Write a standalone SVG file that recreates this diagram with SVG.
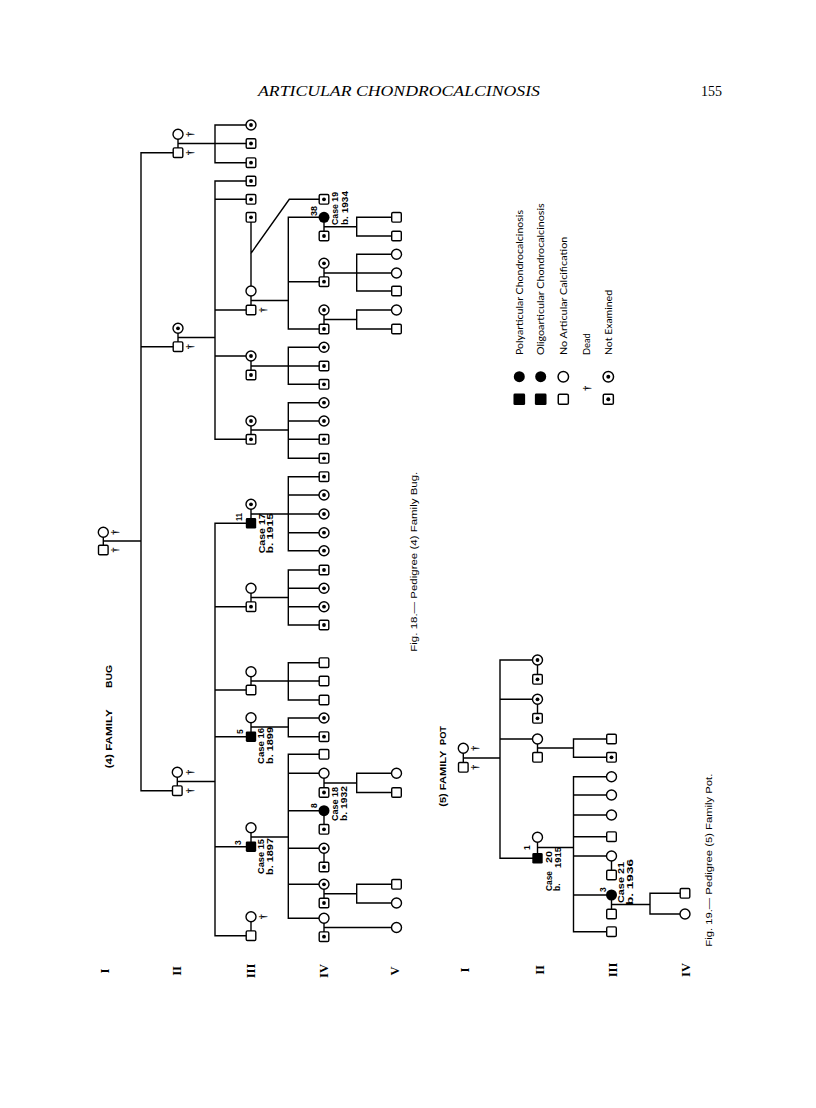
<svg xmlns="http://www.w3.org/2000/svg" width="816" height="1108" viewBox="0 0 816 1108">
<style>
.l{stroke:#000;stroke-width:1.4;fill:none;stroke-linecap:square}
.t{font-family:"Liberation Sans",Arial,sans-serif;font-size:9.5px;fill:#000}
.cs{font-family:"Liberation Sans",Arial,sans-serif;font-size:8.5px;font-weight:bold;fill:#000}
.b{font-weight:bold}
.g{font-family:"Liberation Serif","Times New Roman",serif;font-size:12.5px;font-weight:bold;fill:#000}
.dg{font-family:"Liberation Serif","Times New Roman",serif;font-size:10px;font-weight:bold;fill:#000}
.lg{font-family:Lato,"Liberation Sans",sans-serif;font-size:9px;fill:#000}
</style>
<defs>
<g id="S"><rect x="-4.8" y="-4.8" width="9.6" height="9.6" rx="1.3" fill="#fff" stroke="#000" stroke-width="1.4"/></g>
<g id="SN"><use href="#S"/><circle r="1.9" fill="#000"/></g>
<g id="SF"><rect x="-5.2" y="-5.2" width="10.4" height="10.4" rx="1.3" fill="#000"/></g>
<g id="C"><circle r="5" fill="#fff" stroke="#000" stroke-width="1.4"/></g>
<g id="CN"><use href="#C"/><circle r="1.9" fill="#000"/></g>
<g id="CF"><circle r="5.5" fill="#000"/></g>
</defs>
<rect width="816" height="1108" fill="#fff"/>

<!-- header -->
<text x="258" y="96" font-family="Liberation Serif,serif" font-style="italic" font-size="14" textLength="282" lengthAdjust="spacingAndGlyphs">ARTICULAR CHONDROCALCINOSIS</text>
<text x="701" y="96" font-family="Liberation Serif,serif" font-size="14">155</text>

<g id="connectors" class="l">
<!-- Pedigree 4 -->
<path d="M103.3,532.3V550M103.3,541H141M141,152.7V790.7M141,152.7H178M141,346.7H178M141,790.7H177.3"/>
<path d="M178,134.3V152.7M178,143.5H215M215,125V162.7M215,125H251M215,143.5H251M215,162.7H251"/>
<path d="M178,328.3V346.7M178,337.5H215M215,181V439.3M215,181H251M215,199.3H251M215,310H251M215,356H251M215,439.3H251"/>
<path d="M251,217.3V310M251,253.3L289.3,199.3H324M251,300.5H288.3M288.3,217.3V329M288.3,217.3H324M288.3,281.7H324M288.3,329H324"/>
<path d="M324,217.3V236M324,226.7H356.7M356.7,217.3V236M356.7,217.3H396.5M356.7,236H396.5"/>
<path d="M324,263.3V281.7M324,273H396.5M356.7,254.3V291M356.7,254.3H396.5M356.7,291H396.5"/>
<path d="M324,310V329M324,319.5H356.7M356.7,310V329M356.7,310H396.5M356.7,329H396.5"/>
<path d="M251,356V375M251,366H324M288.3,347.3V384.3M288.3,347.3H324M288.3,384.3H324"/>
<path d="M251,421V439.3M251,430H288.3M288.3,402.7V458.3M288.3,402.7H324M288.3,421H324M288.3,439.3H324M288.3,458.3H324"/>
<path d="M177.3,772.3V790.7M177.3,781.5H215M215,523.3V935.7M215,523.3H251M215,606.7H251M215,690H251M215,736.7H251M215,846.7H251M215,935.7H251"/>
<path d="M251,504.3V523.3M251,514H324M288.3,476.7V550.7M288.3,476.7H324M288.3,495H324M288.3,532.7H324M288.3,550.7H324"/>
<path d="M251,588.3V606.7M251,597.5H288.3M288.3,570V625M288.3,570H324M288.3,588.3H324M288.3,606.7H324M288.3,625H324"/>
<path d="M251,671.7V690M251,681H324M288.3,662.7V700M288.3,662.7H324M288.3,700H324"/>
<path d="M251,717.7V736.7M251,727H288.3M288.3,718V736.7M288.3,718H324M288.3,736.7H324"/>
<path d="M251,827.7V846.7M251,837H288.3M288.3,754.3V918.3M288.3,754.3H324M288.3,773.3H324M288.3,810.7H324M288.3,848.3H324M288.3,884.3H324M288.3,918.3H324"/>
<path d="M324,773.3V792.5M324,783H356.7M356.7,773.3V792.5M356.7,773.3H396.5M356.7,792.5H396.5"/>
<path d="M324,810.7V829.3M324,848.3V867M324,884.3V903M324,893.7H356.7M356.7,884.3V903M356.7,884.3H396.5M356.7,903H396.5M324,918.3V936.7M324,927.5H396.5"/>
<path d="M251,916.7V935.7"/>
<!-- Pedigree 5 -->
<path d="M463.3,748.3V767.3M463.3,758H500M500,660V858.3M500,660H537.5M500,699.3H537.5M500,739H537.5M500,858.3H537.5"/>
<path d="M537.5,660V679.3M537.5,699.3V718.3M537.5,739V757.3M537.5,748H573.5M573.5,739V757.3M573.5,739H611.5M573.5,757.3H611.5"/>
<path d="M537.5,837.3V858.3M537.5,847.5H573.5M573.5,776.7V931.7M573.5,776.7H611.5M573.5,795H611.5M573.5,815H611.5M573.5,836.7H611.5M573.5,856H611.5M573.5,895H611.5M573.5,931.7H611.5"/>
<path d="M611.5,856V875M611.5,895V914M611.5,904.5H650M650,893.3V914M650,893.3H685M650,914H685"/>
</g>

<!-- Pedigree 4 nodes -->
<g id="p4-I-1"><use href="#C" x="103.3" y="532.3"/></g>
<g id="p4-I-2"><use href="#S" x="103.3" y="550"/></g>
<g id="p4-IIa-1"><use href="#C" x="178" y="134.3"/></g>
<g id="p4-IIa-2"><use href="#S" x="178" y="152.7"/></g>
<g id="p4-IIIa-1"><use href="#CN" x="251" y="125"/></g>
<g id="p4-IIIa-2"><use href="#SN" x="251" y="143.5"/></g>
<g id="p4-IIIa-3"><use href="#SN" x="251" y="162.7"/></g>
<g id="p4-IIb-1"><use href="#CN" x="178" y="328.3"/></g>
<g id="p4-IIb-2"><use href="#S" x="178" y="346.7"/></g>
<g id="p4-IIIb-1"><use href="#SN" x="251" y="181"/></g>
<g id="p4-IIIb-2"><use href="#SN" x="251" y="199.3"/></g>
<g id="p4-IIIb-3"><use href="#SN" x="251" y="217.3"/></g>
<g id="p4-IIIb-4"><use href="#C" x="251" y="291"/></g>
<g id="p4-IIIb-5"><use href="#S" x="251" y="310"/></g>
<g id="p4-IIIb-6"><use href="#CN" x="251" y="356"/></g>
<g id="p4-IIIb-7"><use href="#SN" x="251" y="375"/></g>
<g id="p4-IIIb-8"><use href="#CN" x="251" y="421"/></g>
<g id="p4-IIIb-9"><use href="#SN" x="251" y="439.3"/></g>
<g id="p4-IVa-1"><use href="#SN" x="324" y="199.3"/></g>
<g id="p4-IVa-2"><use href="#CF" x="324" y="217.3"/></g>
<g id="p4-IVa-3"><use href="#SN" x="324" y="236"/></g>
<g id="p4-IVa-4"><use href="#CN" x="324" y="263.3"/></g>
<g id="p4-IVa-5"><use href="#SN" x="324" y="281.7"/></g>
<g id="p4-IVa-6"><use href="#CN" x="324" y="310"/></g>
<g id="p4-IVa-7"><use href="#SN" x="324" y="329"/></g>
<g id="p4-Va-1"><use href="#S" x="396.5" y="217.3"/></g>
<g id="p4-Va-2"><use href="#S" x="396.5" y="236"/></g>
<g id="p4-Va-3"><use href="#C" x="396.5" y="254.3"/></g>
<g id="p4-Va-4"><use href="#C" x="396.5" y="273"/></g>
<g id="p4-Va-5"><use href="#S" x="396.5" y="291"/></g>
<g id="p4-Va-6"><use href="#C" x="396.5" y="310"/></g>
<g id="p4-Va-7"><use href="#S" x="396.5" y="329"/></g>
<g id="p4-IVb-1"><use href="#CN" x="324" y="347.3"/></g>
<g id="p4-IVb-2"><use href="#SN" x="324" y="366"/></g>
<g id="p4-IVb-3"><use href="#SN" x="324" y="384.3"/></g>
<g id="p4-IVc-1"><use href="#CN" x="324" y="402.7"/></g>
<g id="p4-IVc-2"><use href="#CN" x="324" y="421"/></g>
<g id="p4-IVc-3"><use href="#SN" x="324" y="439.3"/></g>
<g id="p4-IVc-4"><use href="#SN" x="324" y="458.3"/></g>
<g id="p4-IIc-1"><use href="#C" x="177.3" y="772.3"/></g>
<g id="p4-IIc-2"><use href="#S" x="177.3" y="790.7"/></g>
<g id="p4-IIIc-1"><use href="#CN" x="251" y="504.3"/></g>
<g id="p4-IIIc-2"><use href="#SF" x="251" y="523.3"/></g>
<g id="p4-IIIc-3"><use href="#C" x="251" y="588.3"/></g>
<g id="p4-IIIc-4"><use href="#SN" x="251" y="606.7"/></g>
<g id="p4-IIIc-5"><use href="#C" x="251" y="671.7"/></g>
<g id="p4-IIIc-6"><use href="#S" x="251" y="690"/></g>
<g id="p4-IIIc-7"><use href="#C" x="251" y="717.7"/></g>
<g id="p4-IIIc-8"><use href="#SF" x="251" y="736.7"/></g>
<g id="p4-IIIc-9"><use href="#C" x="251" y="827.7"/></g>
<g id="p4-IIIc-10"><use href="#SF" x="251" y="846.7"/></g>
<g id="p4-IIIc-11"><use href="#C" x="251" y="916.7"/></g>
<g id="p4-IIIc-12"><use href="#S" x="251" y="935.7"/></g>
<g id="p4-IVd-1"><use href="#SN" x="324" y="476.7"/></g>
<g id="p4-IVd-2"><use href="#CN" x="324" y="495"/></g>
<g id="p4-IVd-3"><use href="#CN" x="324" y="514"/></g>
<g id="p4-IVd-4"><use href="#CN" x="324" y="532.7"/></g>
<g id="p4-IVd-5"><use href="#CN" x="324" y="550.7"/></g>
<g id="p4-IVe-1"><use href="#SN" x="324" y="570"/></g>
<g id="p4-IVe-2"><use href="#CN" x="324" y="588.3"/></g>
<g id="p4-IVe-3"><use href="#CN" x="324" y="606.7"/></g>
<g id="p4-IVe-4"><use href="#SN" x="324" y="625"/></g>
<g id="p4-IVf-1"><use href="#S" x="324" y="662.7"/></g>
<g id="p4-IVf-2"><use href="#S" x="324" y="681"/></g>
<g id="p4-IVf-3"><use href="#S" x="324" y="700"/></g>
<g id="p4-IVg-1"><use href="#CN" x="324" y="718"/></g>
<g id="p4-IVg-2"><use href="#SN" x="324" y="736.7"/></g>
<g id="p4-IVh-1"><use href="#S" x="324" y="754.3"/></g>
<g id="p4-IVh-2"><use href="#C" x="324" y="773.3"/></g>
<g id="p4-IVh-3"><use href="#SN" x="324" y="792.5"/></g>
<g id="p4-IVh-4"><use href="#CF" x="324" y="810.7"/></g>
<g id="p4-IVh-5"><use href="#SN" x="324" y="829.3"/></g>
<g id="p4-IVh-6"><use href="#CN" x="324" y="848.3"/></g>
<g id="p4-IVh-7"><use href="#SN" x="324" y="867"/></g>
<g id="p4-IVh-8"><use href="#CN" x="324" y="884.3"/></g>
<g id="p4-IVh-9"><use href="#SN" x="324" y="903"/></g>
<g id="p4-IVh-10"><use href="#C" x="324" y="918.3"/></g>
<g id="p4-IVh-11"><use href="#SN" x="324" y="936.7"/></g>
<g id="p4-Vb-1"><use href="#C" x="396.5" y="773.3"/></g>
<g id="p4-Vb-2"><use href="#S" x="396.5" y="792.5"/></g>
<g id="p4-Vb-3"><use href="#S" x="396.5" y="884.3"/></g>
<g id="p4-Vb-4"><use href="#C" x="396.5" y="903"/></g>
<g id="p4-Vb-5"><use href="#C" x="396.5" y="927.5"/></g>

<!-- Pedigree 5 nodes -->
<g id="p5-I-1"><use href="#C" x="463.3" y="748.3"/></g>
<g id="p5-I-2"><use href="#S" x="463.3" y="767.3"/></g>
<g id="p5-II-1"><use href="#CN" x="537.5" y="660"/></g>
<g id="p5-II-2"><use href="#SN" x="537.5" y="679.3"/></g>
<g id="p5-II-3"><use href="#CN" x="537.5" y="699.3"/></g>
<g id="p5-II-4"><use href="#SN" x="537.5" y="718.3"/></g>
<g id="p5-II-5"><use href="#C" x="537.5" y="739"/></g>
<g id="p5-II-6"><use href="#S" x="537.5" y="757.3"/></g>
<g id="p5-II-7"><use href="#C" x="537.5" y="837.3"/></g>
<g id="p5-II-8"><use href="#SF" x="537.5" y="858.3"/></g>
<g id="p5-III-1"><use href="#S" x="611.5" y="739"/></g>
<g id="p5-III-2"><use href="#SN" x="611.5" y="757.3"/></g>
<g id="p5-III-3"><use href="#C" x="611.5" y="776.7"/></g>
<g id="p5-III-4"><use href="#C" x="611.5" y="795"/></g>
<g id="p5-III-5"><use href="#C" x="611.5" y="815"/></g>
<g id="p5-III-6"><use href="#S" x="611.5" y="836.7"/></g>
<g id="p5-III-7"><use href="#C" x="611.5" y="856"/></g>
<g id="p5-III-8"><use href="#S" x="611.5" y="875"/></g>
<g id="p5-III-9"><use href="#CF" x="611.5" y="895"/></g>
<g id="p5-III-10"><use href="#S" x="611.5" y="914"/></g>
<g id="p5-III-11"><use href="#S" x="611.5" y="931.7"/></g>
<g id="p5-IV-1"><use href="#S" x="685" y="893.3"/></g>
<g id="p5-IV-2"><use href="#C" x="685" y="914"/></g>

<!-- daggers -->
<g id="daggers" class="dg" text-anchor="middle" dominant-baseline="central">
<text transform="translate(114,532.3) rotate(-90)">†</text>
<text transform="translate(114,550) rotate(-90)">†</text>
<text transform="translate(189,134.3) rotate(-90)">†</text>
<text transform="translate(189,152.7) rotate(-90)">†</text>
<text transform="translate(189,346.7) rotate(-90)">†</text>
<text transform="translate(189,772.3) rotate(-90)">†</text>
<text transform="translate(189,790.7) rotate(-90)">†</text>
<text transform="translate(262,310) rotate(-90)">†</text>
<text transform="translate(262,916.7) rotate(-90)">†</text>
<text transform="translate(474,748.3) rotate(-90)">†</text>
<text transform="translate(474,767.3) rotate(-90)">†</text>
</g>

<!-- case labels -->
<g id="labels" class="cs" dominant-baseline="central">
<text transform="translate(314,216) rotate(-90)" textLength="10" lengthAdjust="spacingAndGlyphs">38</text>
<text transform="translate(335,225) rotate(-90)" textLength="33" lengthAdjust="spacingAndGlyphs">Case 19</text>
<text transform="translate(344.5,225) rotate(-90)" textLength="34" lengthAdjust="spacingAndGlyphs">b. 1934</text>
<text transform="translate(314,808) rotate(-90)">8</text>
<text transform="translate(334.5,821) rotate(-90)" textLength="34" lengthAdjust="spacingAndGlyphs">Case 18</text>
<text transform="translate(344,821) rotate(-90)" textLength="35" lengthAdjust="spacingAndGlyphs">b. 1932</text>
<text transform="translate(238,845) rotate(-90)">3</text>
<text transform="translate(261,874) rotate(-90)" textLength="35" lengthAdjust="spacingAndGlyphs">Case 15</text>
<text transform="translate(269.5,875) rotate(-90)" textLength="37" lengthAdjust="spacingAndGlyphs">b. 1897</text>
<text transform="translate(239.5,734) rotate(-90)">5</text>
<text transform="translate(261,764) rotate(-90)" textLength="36" lengthAdjust="spacingAndGlyphs">Case 16</text>
<text transform="translate(269.5,764) rotate(-90)" textLength="37" lengthAdjust="spacingAndGlyphs">b. 1899</text>
<text transform="translate(239,521) rotate(-90)" textLength="8" lengthAdjust="spacingAndGlyphs">11</text>
<text transform="translate(261.5,553.3) rotate(-90)" textLength="40" lengthAdjust="spacingAndGlyphs">Case 17</text>
<text transform="translate(270,553.3) rotate(-90)" textLength="40" lengthAdjust="spacingAndGlyphs">b. 1915</text>
<text transform="translate(527,850) rotate(-90)">1</text>
<text transform="translate(548.5,891) rotate(-90)" textLength="20" lengthAdjust="spacingAndGlyphs">Case</text>
<text transform="translate(549,863) rotate(-90)" textLength="12" lengthAdjust="spacingAndGlyphs">20</text>
<text transform="translate(557,891) rotate(-90)">b.</text>
<text transform="translate(557.5,868) rotate(-90)" textLength="21" lengthAdjust="spacingAndGlyphs">1915</text>
<text transform="translate(603,892) rotate(-90)">3</text>
<text transform="translate(620.5,903) rotate(-90)" textLength="41" lengthAdjust="spacingAndGlyphs">Case 21</text>
<text transform="translate(629.5,905) rotate(-90)" textLength="46" lengthAdjust="spacingAndGlyphs">b. 1936</text>
</g>

<!-- titles and captions -->
<g id="titles" class="t b" dominant-baseline="central">
<text transform="translate(108.3,768.3) rotate(-90)" textLength="59" lengthAdjust="spacingAndGlyphs">(4) FAMILY</text>
<text transform="translate(108.3,688) rotate(-90)" textLength="23" lengthAdjust="spacingAndGlyphs">BUG</text>
<text transform="translate(442,806.7) rotate(-90)" textLength="56" lengthAdjust="spacingAndGlyphs">(5) FAMILY</text>
<text transform="translate(442,745) rotate(-90)" textLength="19" lengthAdjust="spacingAndGlyphs">POT</text>
</g>
<g id="captions" class="t" dominant-baseline="central">
<text transform="translate(413.3,651.7) rotate(-90)" textLength="180" lengthAdjust="spacingAndGlyphs">Fig. 18.— Pedigree (4) Family Bug.</text>
<text transform="translate(708.3,946.7) rotate(-90)" textLength="173" lengthAdjust="spacingAndGlyphs">Fig. 19.— Pedigree (5) Family Pot.</text>
</g>

<!-- generation numerals -->
<g id="generations" class="g" text-anchor="middle" dominant-baseline="central">
<text transform="translate(105,971) rotate(-90)">I</text>
<text transform="translate(177.3,971) rotate(-90)">II</text>
<text transform="translate(251,971) rotate(-90)">III</text>
<text transform="translate(324,971) rotate(-90)">IV</text>
<text transform="translate(395,971) rotate(-90)">V</text>
<text transform="translate(465,970) rotate(-90)">I</text>
<text transform="translate(540,970) rotate(-90)">II</text>
<text transform="translate(612.7,970) rotate(-90)">III</text>
<text transform="translate(686,970) rotate(-90)">IV</text>
</g>

<!-- legend -->
<g id="legend">
<use href="#SF" transform="translate(519.3,399.3) scale(1.12)"/>
<use href="#CF" transform="translate(519.3,376.7)"/>
<use href="#SF" transform="translate(540.7,399.3) scale(1.12)"/>
<use href="#CF" transform="translate(540.7,376.7)"/>
<use href="#S" transform="translate(563.3,399.3) scale(1.05)"/>
<use href="#C" transform="translate(563.3,376.7) scale(1.05)"/>
<text class="dg" text-anchor="middle" dominant-baseline="central" transform="translate(586.7,388.3) rotate(-90)">†</text>
<use href="#SN" transform="translate(608.3,399.3) scale(1.05)"/>
<use href="#CN" transform="translate(608.3,376.7) scale(1.05)"/>
<g class="lg" dominant-baseline="central">
<text transform="translate(519.3,355) rotate(-90)" textLength="145" lengthAdjust="spacingAndGlyphs">Polyarticular Chondrocalcinosis</text>
<text transform="translate(540.7,355) rotate(-90)" textLength="151.7" lengthAdjust="spacingAndGlyphs">Oligoarticular Chondrocalcinosis</text>
<text transform="translate(563.3,355) rotate(-90)" textLength="118.3" lengthAdjust="spacingAndGlyphs">No Articular Calcification</text>
<text transform="translate(586.7,355) rotate(-90)" textLength="21.7" lengthAdjust="spacingAndGlyphs">Dead</text>
<text transform="translate(608.3,355) rotate(-90)" textLength="65" lengthAdjust="spacingAndGlyphs">Not Examined</text>
</g>
</g>
</svg>
